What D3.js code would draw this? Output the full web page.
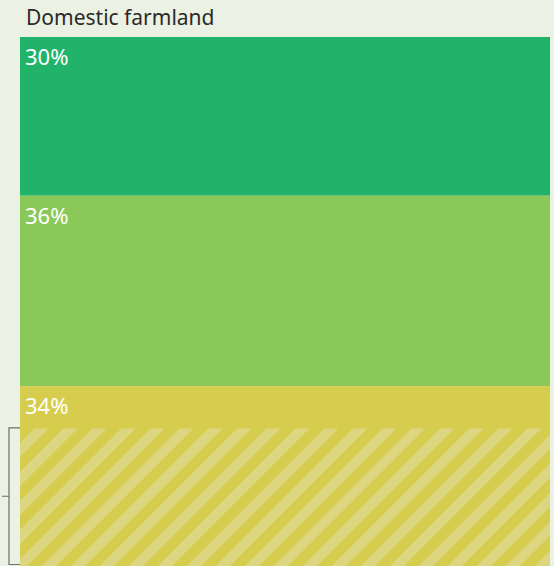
<!DOCTYPE html>
<html>
<head>
<meta charset="utf-8">
<script src="https://cdn.jsdelivr.net/npm/d3@7"></script>
<style>
  body { margin: 0; background: #ebf2e3; }
  svg { display: block; font-family: "Noto Sans", "Open Sans", sans-serif; }
</style>
</head>
<body>
<div id="wrapper"></div>
<script>
const title = "Domestic farmland";
const categories = ["a", "b", "c"];
const shares = [30, 36, 34];
const labels = ["30%", "36%", "34%"];
const colors = ["#22b36b", "#8bc85a", "#d6cd4e"];
const hatchedShare = 26; // hatched part at the bottom of the last segment

let dimensions = {
    width: 554,
    height: 566,
    margins: { top: 37, right: 4, bottom: 0, left: 20 }
};
dimensions.boundedWidth = dimensions.width - dimensions.margins.left - dimensions.margins.right;
dimensions.boundedHeight = dimensions.height - dimensions.margins.top - dimensions.margins.bottom;

const svg = d3.select("#wrapper").append("svg")
    .attr("width", dimensions.width)
    .attr("height", dimensions.height);

// stripes
const defs = svg.append("defs");
const pattern = defs.append("pattern")
    .attr("id", "hatch")
    .attr("patternUnits", "userSpaceOnUse")
    .attr("width", 20.5)
    .attr("height", 20.5)
    .attr("patternTransform", "rotate(45)");
pattern.append("rect").attr("width", 20.5).attr("height", 20.5).attr("fill", colors[2]);
pattern.append("rect").attr("width", 10).attr("height", 20.5).attr("fill", "#ddd680");

svg.append("text")
    .attr("x", 26)
    .attr("y", 25)
    .attr("fill", "#2a2a2a")
    .style("font-size", "21px")
    .text(title);

const bounds = svg.append("g")
    .attr("transform", `translate(${dimensions.margins.left},${dimensions.margins.top})`);

const yScale = d3.scaleLinear().domain([0, 100]).range([0, dimensions.boundedHeight]);
const xScale = d3.scaleLinear().domain([0, 1]).range([0, dimensions.boundedWidth]);

let cum = 0;
const stack = shares.map((v, i) => {
    const d = { key: categories[i], y0: cum, y1: cum + v, label: labels[i], color: colors[i] };
    cum += v;
    return d;
});

bounds.selectAll("rect.seg")
    .data(stack)
    .join("rect")
    .attr("class", "seg")
    .attr("x", xScale(0))
    .attr("y", d => yScale(d.y0))
    .attr("width", xScale(1) - xScale(0))
    .attr("height", d => yScale(d.y1) - yScale(d.y0))
    .attr("fill", d => d.color);

const hatchTop = yScale(100 - hatchedShare);
bounds.append("rect")
    .attr("x", xScale(0))
    .attr("y", hatchTop)
    .attr("width", xScale(1) - xScale(0))
    .attr("height", yScale(100) - hatchTop)
    .attr("fill", "url(#hatch)");

bounds.selectAll("text.lbl")
    .data(stack)
    .join("text")
    .attr("class", "lbl")
    .attr("x", 5)
    .attr("y", d => yScale(d.y0) + 28)
    .attr("fill", "#ffffff")
    .style("font-size", "22px")
    .text(d => d.label);

// bracket
const b0 = hatchTop - 0.5, b1 = yScale(100) - 1.5;
bounds.append("path")
    .attr("d", `M0,${b0}H-11V${b1}H0 M-11,${(b0 + b1) / 2}H-18`)
    .attr("fill", "none")
    .attr("stroke", "#6d6d6d")
    .attr("stroke-width", 1.2);
</script>
</body>
</html>
